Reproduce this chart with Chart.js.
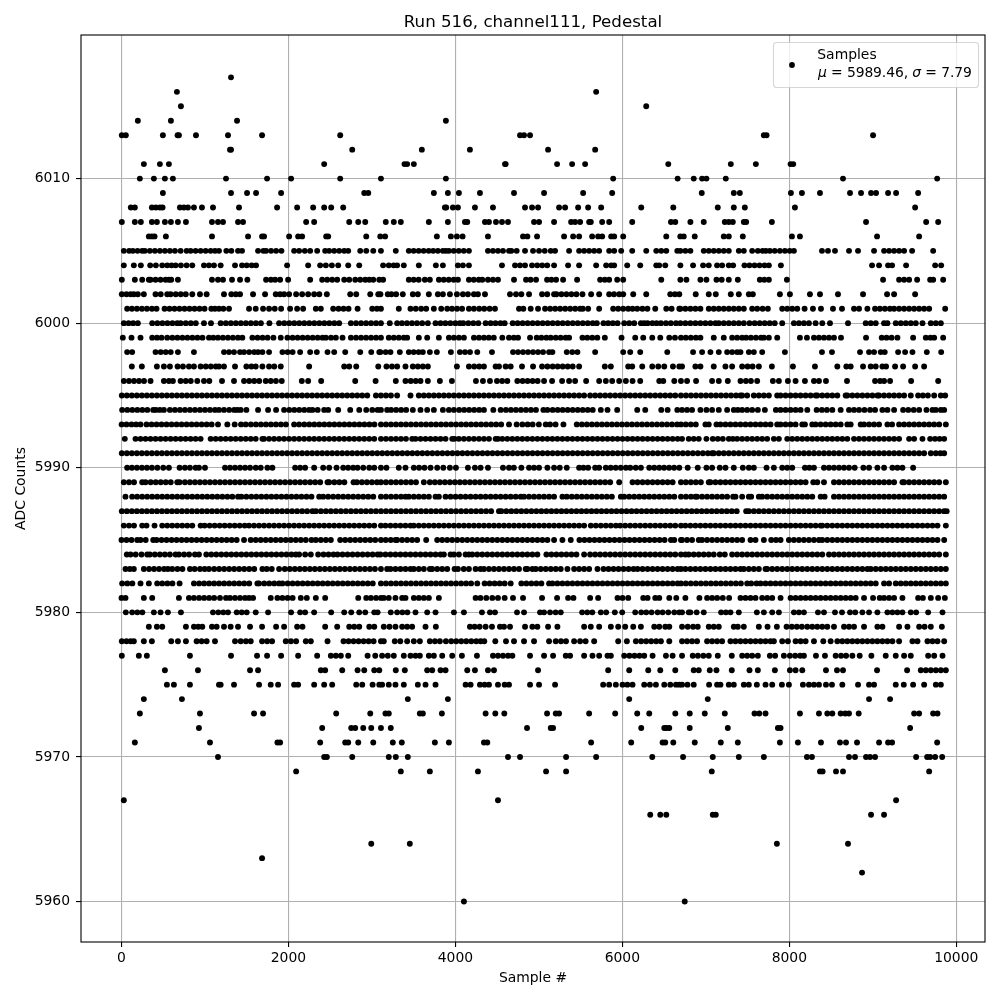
<!DOCTYPE html>
<html><head><meta charset="utf-8"><style>html,body{margin:0;background:#fff}canvas{display:block}</style>
<script src="https://cdn.jsdelivr.net/npm/chart.js@4"></script></head><body><canvas id="c" width="1000" height="1000"></canvas>
<script>
const xTicks=[0,2000,4000,6000,8000,10000];
const yTicks=[5960,5970,5980,5990,6000,6010];
const s6017=[1312];
const s6016=[664,5686];
const s6015=[712,6286];
const s6014=[196,592,1384,3886];
const s6013=[4,52,496,672,688,892,1276,1684,2620,4774,4822,4894,7695,7727,9003];
const s6012=[1300,1312,2764,3598,4174,5110,5674];
const s6011=[268,460,568,2428,3390,3422,3502,4594,4602,5218,5398,5554,6550,7299,7599,8015,8047];
const s6010=[220,388,520,616,1252,1744,2032,2620,3108,3886,5890,6662,6855,6955,7007,7239,8643,9771];
const s6009=[496,1312,1504,1612,1912,2908,2956,3742,3910,4042,4294,4702,5062,5530,5878,6951,7335,7407,8019,8151,8367,8727,8859,8979,9039,9183,9279,9543];
const s6008=[112,160,364,412,460,492,700,748,796,868,964,1096,1408,1864,2104,2296,2428,2512,2656,3874,3890,3970,4030,4234,4450,4834,4918,4990,5242,5314,5470,5590,5746,6226,6610,7143,7335,7467,8067,9507];
const s6007=[4,160,232,364,424,520,592,676,772,1084,1156,1216,1396,1456,2212,2308,2728,2836,2920,3166,3262,3346,3682,3910,4114,4142,4354,4402,4486,4558,4630,4942,5002,5182,5386,5434,5494,5602,5622,5758,5842,6118,6582,6634,6815,6975,7227,7275,7323,7455,7483,7791,8919,9639,9783];
const s6006=[328,364,396,532,1084,1516,1684,1708,2008,2116,2164,2452,2476,2932,3100,3158,3778,3946,4018,4086,4390,4810,4862,4978,5302,5410,5482,5638,5710,5758,5866,5902,6010,6526,6694,6735,6867,7215,7275,7443,8031,8127,9051,9555];
const s6005=[28,92,136,192,248,280,340,400,460,520,580,640,708,780,828,888,948,1008,1068,1120,1168,1256,1316,1396,1444,1636,1700,1732,1792,1852,1916,2068,2128,2196,2260,2344,2440,2488,2548,2608,2668,2716,2860,2932,3016,3108,3286,3442,3500,3560,3620,3680,3734,3790,3850,3886,3922,3980,4040,4100,4162,4390,4450,4510,4570,4642,4670,4734,4834,4930,5002,5070,5142,5194,5362,5482,5542,5602,5662,5722,5842,5902,5986,6118,6286,6406,6466,6526,6658,6695,6755,6815,6975,7035,7095,7155,7215,7275,7395,7455,7555,7623,7680,7719,7767,7825,7887,7947,8005,8055,8391,8463,8547,8715,8823,9015,9135,9195,9255,9315,9375,9471,9723];
const s6004=[28,148,232,344,412,488,548,600,648,712,780,848,988,1048,1108,1188,1360,1444,1500,1560,1612,1984,2236,2380,2448,2520,2596,2716,2848,3134,3202,3260,3302,3382,3562,3766,3850,4030,4090,4162,4558,4714,4774,4834,4918,4980,5040,5100,5182,5350,5482,5686,5806,5866,5902,6058,6214,6406,6442,6514,6695,6847,6967,7035,7135,7195,7275,7327,7463,7523,7583,7643,7703,7755,7899,8991,9075,9183,9231,9399,9747,9819];
const s6003=[4,160,248,328,348,408,468,528,568,596,676,1084,1156,1216,1324,1420,1508,1732,1790,1840,1900,1996,2260,2404,2464,2524,2584,2668,2728,2800,2860,2920,2968,3016,3088,3134,3442,3500,3560,3634,3694,3802,3860,3920,3980,4030,4162,4220,4280,4322,4390,4450,4510,4702,4846,4900,4966,5098,5150,5206,5290,5458,5734,5790,5842,5938,6010,6466,6695,6767,6935,7007,7127,7190,7275,7383,7647,7700,7755,7971,9123,9315,9375,9435,9531,9687,9723,9843];
const s6002=[4,60,110,148,196,268,408,470,548,588,650,710,770,848,940,1020,1228,1316,1370,1420,1576,1720,1848,1900,1948,2008,2092,2164,2236,2308,2370,2460,2740,2812,2980,3076,3102,3190,3234,3290,3370,3490,3550,3682,3790,3850,3934,4018,4090,4150,4222,4270,4354,4654,4726,4790,4882,5038,5100,5182,5210,5270,5330,5390,5450,5522,5626,5722,5842,5900,5962,6010,6130,6286,6574,6630,6682,6879,7035,7119,7299,7395,7515,7563,7887,8007,8247,8367,8583,8883,9171,9255,9507];
const s6001=[68,125,185,245,305,365,420,516,575,635,695,755,815,875,935,995,1076,1120,1168,1220,1288,1528,1608,1696,1768,1836,1912,2020,2104,2176,2328,2388,2536,2600,2660,2720,2828,3004,3060,3108,3322,3462,3525,3590,3650,3742,3830,3902,3960,4020,4080,4162,4222,4285,4345,4410,4474,4762,4814,4902,4990,5074,5135,5195,5255,5315,5375,5435,5494,5526,5590,5722,5890,5950,6010,6070,6122,6178,6240,6300,6394,6526,6590,6682,6695,6755,6815,6875,6935,7035,7095,7155,7215,7275,7335,7395,7455,7555,7615,7680,7743,7915,7975,8035,8095,8183,8283,8379,8523,8631,8775,8835,8935,9027,9085,9145,9205,9255,9315,9375,9435,9495,9555,9615,9675,9867];
const s6000=[28,85,140,196,368,430,490,550,610,668,708,770,830,890,988,1072,1188,1250,1310,1370,1430,1490,1550,1610,1670,1772,1888,1950,2010,2070,2130,2190,2250,2310,2370,2430,2490,2550,2608,2748,2810,2870,2930,2990,3050,3108,3214,3302,3360,3420,3480,3540,3602,3670,3762,3822,3880,3940,4000,4054,4094,4155,4215,4275,4362,4422,4480,4540,4590,4686,4745,4805,4865,4925,4985,5045,5105,5165,5225,5285,5345,5405,5465,5525,5585,5645,5694,5774,5830,5885,5942,6022,6082,6142,6222,6262,6302,6360,6410,6462,6522,6580,6642,6695,6755,6815,6875,6935,6995,7055,7115,7155,7215,7275,7335,7395,7455,7523,7585,7645,7705,7765,7825,7915,8055,8115,8175,8235,8315,8395,8487,8703,8915,8975,9035,9135,9175,9275,9335,9395,9455,9515,9595,9695,9755,9815];
const s5999=[16,120,228,368,425,480,548,610,670,730,790,850,910,970,1048,1100,1156,1215,1275,1335,1395,1448,1568,1630,1690,1750,1820,1908,1988,2050,2110,2170,2230,2290,2350,2408,2448,2510,2568,2648,2748,2810,2870,2930,2990,3050,3108,3202,3262,3322,3382,3422,3562,3662,3802,3922,3982,4042,4102,4222,4282,4342,4400,4460,4562,4642,4700,4750,4894,4974,5030,5090,5142,5202,5260,5320,5362,5522,5580,5640,5700,5790,5990,6154,6250,6358,6454,6562,6630,6702,6760,6820,6880,6935,7095,7215,7315,7375,7435,7483,7540,7600,7660,7695,7755,7855,8127,8211,8295,8355,8415,8475,8535,8619,8919,9107,9165,9225,9295,9483,9635,9690,9735,9843];
const s5998=[68,128,408,470,530,590,676,868,1228,1288,1348,1420,1468,1530,1590,1636,1688,1768,1928,1990,2050,2140,2260,2340,2468,2548,2680,2860,2992,3088,3102,3165,3222,3334,3442,3500,3560,3610,3694,3778,3946,4054,4115,4175,4262,4438,4690,4750,4810,4870,4930,4990,5050,5122,5162,5334,5400,5462,5674,6010,6094,6214,6538,6847,6955,7055,7155,7255,7315,7375,7415,7515,7575,7675,7947,8391,8511,8847,8955,9015,9095,9143,9303,9387,9475,9647,9819];
const s5997=[124,244,424,508,580,672,736,808,868,948,1010,1070,1130,1168,1228,1360,1496,1556,1608,1688,1768,1830,1908,2248,2668,2728,2812,3076,3174,3240,3302,3402,3490,3550,3610,3670,4018,4162,4225,4285,4342,4482,4522,4602,4662,4798,4930,5038,5102,5165,5225,5285,5345,5405,5482,5790,5862,6070,6118,6238,6358,6430,6502,6606,6682,6715,6875,6935,7095,7235,7315,7435,7500,7560,7635,7791,8043,8307,8575,8683,8735,8883,8975,9035,9115,9159,9267,9363,9507,9615];
const s5996=[28,90,150,210,270,348,508,568,616,708,770,830,908,988,1052,1204,1348,1468,1530,1590,1650,1728,1788,1850,1920,2160,2236,2392,2800,3044,3286,3402,3465,3525,3582,3670,3814,3958,4246,4330,4414,4498,4560,4622,4742,4805,4865,4925,4985,5062,5158,5278,5362,5434,5566,5722,5802,5878,5962,6042,6122,6214,6442,6490,6622,6702,6775,6883,7075,7155,7263,7415,7480,7540,7615,7803,7875,7983,8075,8187,8295,8355,8439,8691,9027,9087,9135,9207,9459,9783];
const s5995=[4,64,124,184,244,304,364,424,484,544,604,664,724,784,844,904,964,1024,1084,1144,1204,1264,1324,1384,1444,1504,1564,1624,1684,1744,1804,1864,1924,1984,2044,2104,2164,2224,2284,2344,2404,2464,2524,2584,2644,2704,2764,2824,2884,2944,3048,3108,3168,3228,3302,3462,3562,3622,3682,3742,3802,3862,3922,3982,4042,4102,4162,4222,4282,4342,4402,4462,4522,4582,4642,4702,4762,4822,4882,4942,5002,5062,5122,5182,5242,5302,5362,5422,5482,5542,5614,5674,5734,5794,5854,5914,5974,6034,6094,6154,6214,6274,6334,6394,6454,6514,6574,6634,6702,6762,6822,6882,6942,7002,7062,7122,7182,7242,7302,7362,7415,7435,7495,7575,7635,7695,7755,7855,7895,7955,8015,8075,8135,8195,8255,8315,8335,8395,8455,8515,8575,8675,8695,8755,8815,8875,8935,8995,9055,9075,9135,9195,9255,9315,9375,9455,9543,9600,9660,9735,9815,9867];
const s5994=[8,70,130,190,250,310,380,412,460,508,580,640,700,760,820,880,940,1000,1060,1120,1168,1228,1290,1350,1388,1428,1496,1636,1756,1852,1948,2010,2070,2130,2190,2248,2288,2350,2428,2476,2596,2740,2848,2932,3004,3068,3108,3182,3230,3290,3350,3410,3490,3582,3662,3742,3850,3922,3982,4045,4105,4165,4225,4285,4342,4454,4542,4605,4665,4725,4785,4845,4905,4965,5054,5102,5165,5225,5285,5345,5405,5465,5525,5585,5645,5742,5822,5938,6178,6274,6466,6542,6658,6715,6775,6835,6935,7007,7075,7155,7255,7335,7383,7435,7495,7555,7623,7707,7839,7895,7955,8015,8075,8135,8215,8327,8390,8450,8515,8615,8715,8775,8835,8900,8967,9027,9115,9175,9255,9363,9425,9490,9555,9643,9715,9755,9815,9855];
const s5993=[2,60,120,175,228,300,360,420,480,540,600,660,720,780,840,900,960,1020,1080,1156,1268,1356,1432,1488,1550,1610,1670,1730,1790,1850,1910,1970,2068,2128,2190,2250,2310,2370,2430,2490,2550,2610,2670,2730,2790,2850,2910,2970,3030,3108,3168,3228,3288,3348,3408,3468,3528,3588,3648,3708,3768,3828,3888,3948,4008,4068,4128,4188,4248,4308,4368,4428,4488,4548,4642,4734,4802,4865,4925,5000,5082,5134,5200,5294,5454,5515,5575,5635,5695,5755,5815,5875,5935,5995,6055,6115,6175,6235,6295,6355,6415,6475,6535,6595,6655,6702,6760,6820,6880,6995,7035,7127,7175,7235,7295,7355,7415,7475,7535,7595,7655,7715,7775,7855,7895,7955,8015,8075,8155,8187,8275,8315,8375,8435,8495,8555,8615,8695,8735,8855,8895,8955,9015,9075,9175,9231,9315,9375,9435,9495,9555,9615,9675,9735,9795,9875];
const s5992=[40,168,228,288,348,408,468,528,588,648,708,768,828,888,948,1068,1128,1188,1248,1308,1368,1428,1488,1548,1608,1688,1708,1768,1828,1888,1948,2008,2068,2128,2188,2248,2308,2368,2428,2488,2548,2608,2668,2728,2788,2848,2908,2968,3028,3108,3168,3228,3288,3348,3408,3482,3522,3582,3642,3702,3762,3822,3882,3962,3990,4042,4102,4162,4222,4282,4342,4402,4482,4510,4562,4622,4682,4742,4802,4862,4922,4982,5042,5102,5162,5222,5282,5342,5402,5462,5522,5582,5642,5702,5762,5822,5882,5942,6002,6062,6122,6182,6242,6302,6362,6422,6482,6542,6602,6662,6715,6795,6855,6915,7007,7083,7143,7203,7275,7323,7375,7435,7495,7555,7615,7675,7735,7815,7875,7975,8035,8095,8155,8215,8275,8335,8395,8455,8515,8575,8635,8695,8775,8835,8895,8955,9015,9075,9135,9195,9255,9315,9435,9495,9595,9687,9745,9800,9855];
const s5991=[4,64,124,184,244,304,364,424,484,544,604,664,724,784,844,904,964,1024,1084,1144,1204,1264,1324,1384,1444,1504,1564,1624,1684,1744,1804,1864,1924,1984,2044,2104,2164,2224,2284,2344,2404,2464,2524,2584,2644,2704,2764,2824,2884,2944,3004,3064,3124,3184,3244,3304,3364,3424,3484,3544,3604,3664,3724,3784,3844,3904,3964,4024,4084,4144,4204,4264,4324,4384,4444,4504,4564,4624,4684,4744,4804,4864,4924,4984,5044,5104,5164,5224,5284,5344,5404,5464,5524,5584,5644,5704,5764,5824,5884,5944,6004,6064,6124,6184,6244,6304,6364,6424,6484,6544,6604,6664,6724,6784,6844,6904,6964,7024,7075,7095,7155,7215,7275,7335,7395,7455,7515,7575,7635,7695,7755,7815,7875,7935,7995,8055,8115,8175,8235,8295,8355,8415,8475,8535,8595,8655,8715,8775,8835,8895,8955,9015,9075,9135,9195,9255,9315,9375,9435,9495,9555,9615,9695,9755,9810,9855];
const s5990=[68,125,185,245,305,365,430,500,568,696,760,820,888,928,1000,1240,1300,1360,1420,1480,1540,1608,1668,1748,1808,2080,2140,2200,2308,2416,2488,2576,2656,2715,2775,2828,2896,2968,3028,3108,3174,3322,3402,3502,3565,3630,3702,3782,3855,3934,4006,4150,4234,4302,4390,4570,4642,4700,4790,4882,4942,5002,5102,5182,5250,5334,5482,5534,5590,5674,5722,5802,5860,5920,5980,6042,6094,6160,6222,6322,6382,6442,6500,6560,6620,6682,6783,6903,7007,7075,7167,7235,7335,7443,7515,7575,7727,7815,7915,7975,8035,8187,8240,8295,8415,8475,8535,8595,8655,8715,8783,8887,8955,9055,9135,9235,9295,9355,9483];
const s5989=[28,90,150,248,288,350,410,470,530,590,668,696,760,820,880,940,1000,1060,1120,1180,1240,1300,1360,1420,1480,1540,1600,1660,1720,1780,1840,1900,1960,2020,2080,2140,2200,2260,2320,2380,2468,2488,2550,2610,2670,2780,2820,2880,2940,3000,3060,3108,3168,3228,3288,3348,3408,3468,3528,3622,3694,3754,3814,3874,3934,3994,4054,4114,4174,4234,4294,4354,4414,4474,4534,4594,4654,4714,4774,4834,4894,4954,5014,5074,5134,5194,5254,5314,5374,5434,5494,5554,5614,5674,5734,5794,5854,5962,6122,6182,6242,6302,6362,6422,6482,6542,6602,6702,6760,6820,6880,6940,7035,7055,7115,7175,7235,7295,7355,7415,7475,7535,7595,7655,7715,7775,7835,7895,7955,8015,8075,8135,8195,8287,8335,8415,8535,8595,8655,8715,8775,8835,8895,8955,9015,9075,9135,9195,9255,9355,9375,9435,9495,9555,9615,9675,9735,9795,9875];
const s5988=[48,128,188,248,308,368,428,488,548,608,668,728,788,848,908,968,1028,1088,1148,1208,1268,1328,1396,1436,1496,1556,1616,1676,1736,1796,1856,1916,1976,2036,2096,2156,2216,2276,2368,2416,2476,2536,2596,2656,2716,2776,2836,2896,2956,3016,3108,3168,3228,3288,3348,3402,3442,3502,3562,3622,3682,3762,3802,3882,3942,4002,4062,4122,4182,4242,4302,4362,4422,4482,4542,4602,4662,4722,4782,4822,4882,4942,5002,5062,5122,5182,5282,5334,5394,5454,5514,5574,5634,5694,5754,5814,5874,5982,6022,6082,6142,6202,6262,6322,6382,6442,6502,6562,6622,6702,6762,6822,6875,6895,6955,7015,7075,7135,7195,7255,7327,7355,7435,7515,7543,7635,7675,7735,7795,7855,7915,7975,8035,8095,8155,8215,8275,8375,8423,8535,8595,8655,8715,8775,8835,8895,8955,9015,9075,9135,9195,9255,9315,9375,9435,9495,9555,9615,9675,9735,9795,9855];
const s5987=[4,64,124,184,244,304,364,424,484,544,604,664,724,784,844,904,964,1024,1084,1144,1204,1264,1324,1384,1444,1504,1564,1624,1684,1744,1804,1864,1924,1984,2044,2104,2164,2224,2288,2328,2388,2448,2508,2568,2628,2688,2748,2808,2868,2928,2988,3048,3108,3168,3228,3288,3348,3408,3468,3528,3588,3648,3708,3768,3828,3888,3948,4008,4068,4128,4188,4248,4308,4368,4428,4522,4550,4610,4670,4730,4790,4850,4910,4970,5030,5090,5150,5210,5270,5330,5390,5450,5510,5570,5630,5690,5750,5810,5870,5930,5990,6050,6110,6170,6230,6290,6350,6410,6470,6530,6590,6650,6710,6770,6830,6890,6950,7010,7070,7130,7190,7250,7310,7370,7483,7515,7575,7635,7695,7755,7815,7875,7935,7995,8055,8115,8175,8235,8295,8355,8415,8475,8535,8595,8655,8715,8775,8835,8895,8955,9015,9075,9135,9195,9255,9315,9375,9435,9495,9555,9615,9675,9735,9795,9855,9885];
const s5986=[28,90,150,248,300,396,488,548,608,668,728,788,848,948,996,1056,1116,1176,1236,1296,1356,1416,1476,1528,1588,1648,1708,1768,1828,1888,1948,2008,2068,2128,2188,2248,2308,2368,2428,2488,2548,2608,2668,2728,2788,2848,2908,2968,3028,3108,3162,3222,3282,3342,3402,3462,3502,3562,3622,3682,3742,3802,3862,3922,3982,4042,4102,4162,4222,4282,4342,4402,4462,4522,4582,4642,4702,4762,4822,4882,4942,5002,5062,5122,5182,5242,5302,5362,5422,5482,5542,5622,5682,5742,5802,5862,5922,5974,6034,6094,6154,6214,6274,6334,6394,6454,6514,6574,6634,6702,6755,6815,6875,6935,6995,7055,7115,7175,7235,7295,7355,7415,7475,7535,7595,7655,7715,7775,7835,7895,7955,8015,8075,8135,8195,8255,8315,8375,8395,8455,8515,8575,8635,8695,8755,8815,8875,8935,8995,9055,9115,9175,9235,9295,9355,9415,9475,9535,9595,9655,9715,9775,9875];
const s5985=[0,60,120,188,228,290,380,420,480,540,600,660,720,780,840,900,960,1020,1080,1140,1200,1260,1320,1380,1468,1548,1608,1668,1728,1788,1848,1908,1968,2028,2088,2148,2208,2276,2328,2388,2448,2508,2620,2680,2740,2800,2860,2920,2980,3040,3108,3165,3225,3282,3302,3362,3422,3482,3542,3650,3782,3842,3902,3962,4022,4082,4142,4202,4262,4322,4382,4442,4502,4562,4622,4682,4742,4802,4862,4922,4982,5042,5102,5182,5282,5382,5486,5546,5606,5666,5726,5786,5846,5906,5966,6026,6086,6146,6206,6266,6326,6386,6446,6506,6582,6622,6702,6715,6775,6835,6915,6955,7015,7075,7135,7195,7255,7315,7375,7435,7535,7595,7695,7783,7840,7895,7995,8055,8115,8175,8235,8295,8355,8395,8455,8515,8575,8635,8695,8755,8815,8875,8935,8995,9055,9115,9175,9235,9295,9355,9415,9475,9535,9595,9655,9715,9775,9855];
const s5984=[64,108,170,240,308,340,400,460,520,580,648,688,750,810,880,928,1016,1076,1136,1196,1256,1316,1376,1436,1496,1556,1616,1676,1736,1796,1856,1916,1976,2036,2088,2128,2200,2268,2356,2420,2480,2540,2588,2648,2708,2768,2828,2888,2948,3008,3068,3102,3162,3222,3282,3342,3402,3462,3522,3582,3642,3702,3762,3822,3862,3942,3982,4042,4122,4162,4202,4262,4322,4382,4442,4502,4562,4622,4682,4742,4802,4862,4922,4982,5090,5150,5210,5270,5330,5390,5450,5542,5614,5674,5734,5794,5854,5914,5974,6034,6094,6154,6214,6274,6334,6394,6454,6514,6574,6634,6702,6755,6795,6855,6915,6975,7035,7095,7167,7227,7315,7375,7435,7495,7555,7615,7675,7735,7795,7855,7915,7975,8035,8095,8155,8215,8275,8335,8395,8475,8535,8595,8655,8715,8775,8835,8895,8955,9015,9075,9135,9195,9255,9315,9375,9435,9495,9555,9615,9675,9735,9795,9875];
const s5983=[48,100,148,268,330,390,450,510,556,608,670,730,820,876,940,996,1048,1110,1170,1230,1290,1350,1410,1470,1530,1590,1688,1740,1800,1888,1956,2016,2076,2136,2196,2256,2316,2376,2436,2496,2556,2616,2676,2736,2796,2856,2916,2976,3036,3108,3182,3222,3282,3342,3402,3462,3502,3562,3622,3694,3722,3782,3842,3902,3990,4030,4100,4162,4242,4300,4342,4402,4462,4522,4582,4642,4702,4762,4842,4862,4922,4962,5022,5082,5142,5202,5262,5342,5422,5482,5542,5602,5702,5774,5834,5894,5954,6014,6074,6134,6182,6242,6302,6362,6422,6482,6542,6602,6662,6702,6755,6815,6875,6935,6995,7055,7115,7175,7235,7295,7355,7415,7455,7515,7575,7635,7715,7735,7795,7855,7915,7975,8035,8095,8155,8215,8275,8335,8395,8455,8515,8575,8635,8695,8755,8815,8875,8935,8975,9035,9095,9155,9215,9275,9335,9395,9455,9515,9575,9635,9695,9755,9815,9875];
const s5982=[8,70,130,228,328,428,488,550,610,696,868,930,990,1050,1110,1170,1230,1290,1350,1410,1470,1530,1628,1648,1710,1770,1830,1888,1928,1990,2050,2110,2170,2230,2290,2350,2410,2470,2530,2590,2650,2710,2770,2830,2890,2950,3010,3108,3168,3228,3288,3348,3408,3468,3528,3588,3648,3708,3768,3828,3888,3948,4008,4068,4128,4188,4262,4350,4410,4470,4530,4590,4662,4790,4850,4910,4970,5030,5122,5162,5222,5282,5342,5402,5462,5522,5582,5642,5702,5762,5822,5882,5942,6002,6062,6122,6182,6242,6302,6362,6422,6482,6542,6602,6662,6702,6760,6820,6880,6940,7000,7060,7120,7180,7240,7300,7360,7420,7495,7543,7607,7655,7715,7775,7835,7895,7955,8015,8075,8135,8195,8255,8315,8375,8435,8495,8555,8615,8675,8735,8795,8855,8915,8975,9035,9135,9195,9275,9335,9395,9455,9515,9575,9635,9695,9755,9815,9875];
const s5981=[0,48,268,368,688,808,868,930,990,1050,1110,1180,1252,1300,1360,1420,1480,1528,1576,1788,1868,1928,1990,2050,2148,2220,2328,2440,2836,2932,2988,3050,3108,3142,3202,3282,3362,3402,3502,3562,3622,3682,3802,4242,4300,4370,4442,4510,4590,4690,4810,5038,5218,5350,5414,5614,5710,5942,6002,6070,6250,6302,6394,6442,6562,6646,6755,6923,7015,7075,7135,7203,7279,7415,7475,7535,7595,7675,7735,7795,7895,8015,8075,8135,8195,8255,8315,8375,8435,8495,8555,8615,8675,8735,8795,8895,9003,9083,9135,9195,9255,9355,9543,9600,9695,9783,9863];
const s5980=[52,128,190,250,388,468,556,712,1096,1160,1220,1276,1380,1440,1500,1608,1756,2032,2140,2200,2308,2512,2668,2752,2848,2920,3028,3068,3226,3302,3365,3425,3522,3662,3762,3982,4102,4318,4414,4474,4738,4822,5014,5062,5134,5200,5262,5518,5580,5640,5742,5806,5910,5998,6154,6226,6286,6350,6422,6482,6550,6622,6682,6715,6795,6815,6890,6975,7183,7240,7295,7395,7611,7695,7795,7875,8055,8115,8175,8343,8415,8547,8631,8727,8790,8875,8955,9055,9175,9235,9295,9355,9455,9519,9663,9835];
const s5979=[328,424,488,772,868,920,968,1084,1140,1228,1308,1396,1540,1684,1852,1948,2104,2168,2440,2584,2728,2788,2848,2968,3028,3142,3210,3282,3362,3422,3482,3642,3766,4174,4230,4290,4362,4438,4534,4582,4654,4834,4922,4982,5110,5222,5542,5622,5722,5862,5950,6034,6130,6222,6382,6442,6514,6562,6715,6783,6847,6903,7035,7095,7155,7335,7383,7455,7635,7739,7851,7967,8030,8090,8150,8215,8275,8335,8395,8455,8535,8655,8715,8775,8895,9055,9115,9315,9415,9555,9620,9695,9827];
const s5978=[4,60,110,148,268,364,596,676,772,900,960,1020,1120,1360,1428,1490,1548,1684,1745,1804,1968,2030,2092,2208,2268,2468,2660,2720,2780,2840,2900,2960,3020,3108,3142,3274,3340,3422,3502,3574,3694,3755,3814,3886,3950,4010,4070,4130,4190,4250,4302,4346,4478,4606,4702,4822,4942,5122,5202,5265,5325,5422,5494,5560,5662,5950,6054,6162,6225,6285,6345,6405,6462,6562,6715,6775,6835,6895,7015,7075,7135,7195,7295,7355,7415,7475,7535,7595,7655,7715,7775,7815,7915,7983,8075,8135,8195,8295,8407,8495,8575,8635,8695,8755,8815,8875,8935,8995,9055,9115,9175,9235,9315,9475,9535,9655,9715,9775,9855];
const s5977=[4,208,304,820,1312,1624,1744,1912,2116,2344,2508,2568,2628,2716,2948,3040,3122,3190,3262,3382,3462,3522,3574,3682,3742,3842,3962,4078,4258,4450,4510,4570,4630,4682,4894,5062,5170,5322,5374,5542,5642,5722,5822,5862,6022,6085,6145,6205,6262,6362,6522,6602,6715,6843,6905,6970,7035,7143,7311,7435,7495,7555,7623,7767,7830,7935,8007,8070,8130,8175,8319,8427,8555,8620,8680,8755,8843,8983,9155,9275,9375,9455,9663,9735,9835];
const s5976=[520,916,1540,1636,2388,2440,2644,2828,2908,3028,3088,3286,3394,3662,3722,3822,3882,4142,4234,4390,4462,4990,5830,6082,6310,6454,6634,6855,6915,7047,7127,7311,7523,7623,7827,8007,8075,8155,8439,8571,8643,9051,9411,9575,9635,9695,9755,9815,9875];
const s5975=[544,628,820,1168,1188,1348,1648,1788,1876,2068,2116,2308,2428,2524,2812,2884,3008,3088,3122,3202,3282,3382,3550,3642,3762,4122,4182,4294,4350,4402,4510,4590,4642,4894,5002,5194,5770,5842,5922,6002,6060,6122,6262,6330,6402,6502,6574,6642,6682,6715,6780,6855,7039,7135,7175,7275,7335,7455,7515,7611,7715,7795,7911,7995,8163,8235,8295,8355,8439,8511,8635,8823,8955,9015,9275,9371,9483,9615,9755,9815];
const s5974=[268,724,3430,3910,6082,7023,8955,9207];
const s5973=[220,940,1588,1696,2572,2980,3162,3202,3574,3610,3838,4362,4478,4586,5098,5202,5242,5602,5914,6178,6322,6634,6807,6987,7227,7583,7640,7715,8127,8355,8455,8515,8615,8670,8715,8831,9495,9555,9723,9775];
const s5972=[928,2404,2752,2800,2896,2992,3108,3226,4858,5142,5170,6226,6502,6530,6562,6807,7263,7863,7895,9447];
const s5971=[160,1060,1868,1900,2380,2680,2716,2836,3016,3250,3358,3754,3922,4342,4382,5626,6106,6482,6514,6610,6867,7179,7383,7887,8103,8379,8607,8679,8811,9075,9183,9231,9771];
const s5970=[1156,2428,2460,2764,3202,3286,3430,4630,4774,5326,5686,6358,6727,7083,7395,7695,8211,8271,8715,8787,8919,8967,9027,9519,9651,9687,9747,9831];
const s5969=[2092,3346,3694,4270,5086,5326,7071,8367,8399,8559,8643,9675];
const s5967=[28,4510,9279];
const s5966=[6334,6454,6526,7083,7119,8979,9135];
const s5964=[2992,3454,7851,8703];
const s5963=[1684];
const s5962=[8871];
const s5960=[4102,6747];
const levels=[6017,6016,6015,6014,6013,6012,6011,6010,6009,6008,6007,6006,6005,6004,6003,6002,6001,6000,5999,5998,5997,5996,5995,5994,5993,5992,5991,5990,5989,5988,5987,5986,5985,5984,5983,5982,5981,5980,5979,5978,5977,5976,5975,5974,5973,5972,5971,5970,5969,5967,5966,5964,5963,5962,5960];
const sampleRows=[s6017,s6016,s6015,s6014,s6013,s6012,s6011,s6010,s6009,s6008,s6007,s6006,s6005,s6004,s6003,s6002,s6001,s6000,s5999,s5998,s5997,s5996,s5995,s5994,s5993,s5992,s5991,s5990,s5989,s5988,s5987,s5986,s5985,s5984,s5983,s5982,s5981,s5980,s5979,s5978,s5977,s5976,s5975,s5974,s5973,s5972,s5971,s5970,s5969,s5967,s5966,s5964,s5963,s5962,s5960];
const points=[];
levels.forEach((lv,i)=>sampleRows[i].forEach(x=>points.push({x:x,y:lv})));
const FONT='"DejaVu Sans"';
const legendBox={
 id:'legendBox',
 afterDraw(ch){
  const c=ch.ctx,a=ch.chartArea;
  c.save();
  c.strokeStyle='#000';c.lineWidth=1.1;c.strokeRect(a.left,a.top,a.right-a.left,a.bottom-a.top);
  const bx=773.5,by=42.5,bw=205,bh=45;
  c.beginPath();c.roundRect(bx,by,bw,bh,3);
  c.fillStyle='rgba(255,255,255,0.8)';c.fill();
  c.strokeStyle='rgba(204,204,204,0.8)';c.lineWidth=1.1;c.stroke();
  c.fillStyle='#000';c.beginPath();c.arc(792,65,2.9,0,Math.PI*2);c.fill();
  c.textBaseline='alphabetic';c.textAlign='left';c.fillStyle='#000';
  c.font='13.9px '+FONT;c.fillText('Samples',817.3,59);
  let x=818;const y=77;
  c.letterSpacing='-0.1px';
  [['μ',1],[' = 5989.46, ',0],['σ',1],[' = 7.79',0]].forEach(p=>{
   c.font=(p[1]?'italic ':'')+'13.9px '+FONT;c.fillText(p[0],x,y);x+=c.measureText(p[0]).width;
  });
  c.restore();
 }
};
new Chart(document.getElementById('c'),{
 type:'scatter',
 data:{datasets:[{label:'Samples',data:points,showLine:false,pointRadius:2.95,pointHoverRadius:2.95,pointBackgroundColor:'#000',pointBorderWidth:0}]},
 plugins:[legendBox],
 options:{
  responsive:false,animation:false,events:[],
  layout:{padding:{top:0,right:15,left:0,bottom:0}},
  plugins:{
   legend:{display:false},tooltip:{enabled:false},
   title:{display:true,fullSize:false,text:'Run 516, channel111, Pedestal',color:'#000',font:{family:FONT,size:16.67,weight:'normal'},padding:{top:13,bottom:2}}
  },
  scales:{
   x:{type:'linear',min:-485,max:10344,
    afterFit(s){s.height=58},
    afterBuildTicks(s){s.ticks=xTicks.map(v=>({value:v}))},
    grid:{color:'#b0b0b0',lineWidth:1.1,tickColor:'#000',tickLength:5},border:{display:false},
    ticks:{color:'#000',font:{family:FONT,size:13.9},padding:3,maxRotation:0,autoSkip:false,callback:v=>String(v)},
    title:{display:true,text:'Sample #',color:'#000',font:{family:FONT,size:13.9},padding:{top:3,bottom:13}}
   },
   y:{type:'linear',min:5957.2,max:6019.93,
    afterFit(s){s.width=81},
    afterBuildTicks(s){s.ticks=yTicks.map(v=>({value:v}))},
    grid:{color:'#b0b0b0',lineWidth:1.1,tickColor:'#000',tickLength:5},border:{display:false},
    ticks:{color:'#000',font:{family:FONT,size:13.9},padding:6,autoSkip:false,callback:v=>String(v)},
    title:{display:true,text:'ADC Counts',color:'#000',font:{family:FONT,size:13.9},padding:{top:13,bottom:0}}
   }
  }
 }
});
</script></body></html>
